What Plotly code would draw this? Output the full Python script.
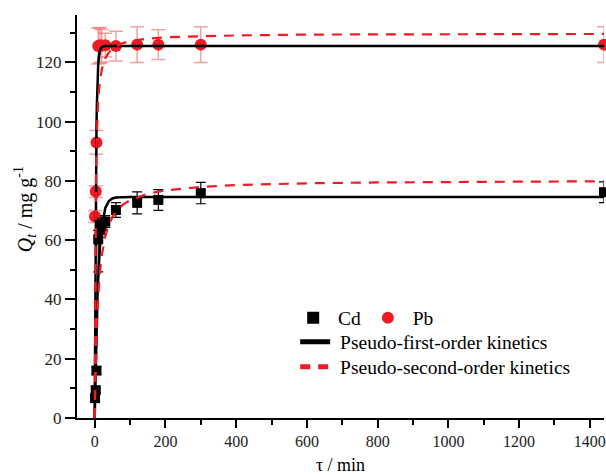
import plotly.graph_objects as go

# ---- experimental data ----
t_exp = [1, 3, 5, 10, 15, 20, 30, 60, 120, 180, 300, 1440]
cd_q = [6.7, 9.4, 16.0, 60.3, 63.5, 65.2, 66.3, 70.2, 72.6, 73.6, 75.9, 76.2]
cd_err = [0.8, 1.0, 1.2, 3.0, 2.5, 2.0, 2.0, 2.5, 3.7, 3.5, 3.6, 3.5]
cd_err_minus = [0.8, 1.0, 1.2, 11.0, 2.5, 2.0, 2.0, 2.5, 3.7, 3.5, 3.6, 3.5]
pb_q = [68.0, 76.4, 93.0, 125.5, 125.8, 125.6, 125.8, 125.5, 126.0, 126.0, 126.0, 126.0]
pb_err = [2.0, 2.0, 4.0, 6.0, 6.0, 5.5, 4.0, 5.0, 6.0, 5.0, 6.0, 6.0]

# ---- fitted curves ----
t_fit = [0, 1, 2, 3, 4, 5, 6, 8, 10, 12, 15, 20, 25, 30, 40, 50, 60, 80, 100,
         150, 200, 300, 400, 600, 800, 1000, 1200, 1440]
cd_pfo = [0, 7.1, 13.5, 19.3, 24.6, 29.3, 33.7, 41.1, 47.2, 52.1, 58.0, 64.5, 68.5,
          70.9, 73.2, 74.1, 74.4, 74.6, 74.6, 74.6, 74.6, 74.6, 74.6, 74.6, 74.6,
          74.6, 74.6, 74.6]
cd_pso = [0, 7.8, 14.2, 19.5, 24.1, 28.0, 31.4, 37.1, 41.6, 45.2, 49.5, 54.8, 58.5,
          61.3, 65.2, 67.7, 69.6, 72.0, 73.5, 75.7, 76.8, 78.0, 78.6, 79.2, 79.5,
          79.7, 79.8, 79.9]
pb_pfo = [0, 32.5, 56.6, 74.4, 87.7, 97.5, 104.8, 114.1, 119.3, 122.1, 124.1, 125.2,
          125.4, 125.5, 125.5, 125.5, 125.5, 125.5, 125.5, 125.5, 125.5, 125.5, 125.5,
          125.5, 125.5, 125.5, 125.5, 125.5]
pb_pso = [0, 42.1, 63.6, 76.6, 85.3, 91.6, 96.3, 103.0, 107.4, 110.6, 114.0, 117.6,
          119.8, 121.4, 123.4, 124.6, 125.4, 126.5, 127.2, 128.0, 128.5, 128.9, 129.1,
          129.4, 129.5, 129.5, 129.6, 129.6]

RED = "rgb(237,28,36)"
FONT = "'Liberation Serif', 'Times New Roman', serif"
NB = "\u00a0"

fig = go.Figure()

fig.add_trace(go.Scatter(
    x=t_exp, y=pb_q, mode="markers", name=NB + "Pb",
    marker=dict(symbol="circle", size=12, color=RED),
    error_y=dict(type="data", array=pb_err, color="rgba(240,70,70,0.5)",
                 thickness=1.5, width=7),
    legend="legend2", cliponaxis=False))
fig.add_trace(go.Scatter(
    x=t_exp, y=cd_q, mode="markers", name=NB + "Cd",
    marker=dict(symbol="square", size=10, color="black"),
    error_y=dict(type="data", array=cd_err, arrayminus=cd_err_minus, color="black",
                 thickness=1.2, width=5),
    legend="legend", cliponaxis=False))

for yv in (cd_pfo, pb_pfo):
    fig.add_trace(go.Scatter(
        x=t_fit, y=yv, mode="lines", name=NB + "Pseudo-first-order kinetics",
        line=dict(color="black", width=2.5), legend="legend3",
        showlegend=(yv is cd_pfo)))
for yv in (cd_pso, pb_pso):
    fig.add_trace(go.Scatter(
        x=t_fit, y=yv, mode="lines", name=NB + "Pseudo-second-order kinetics",
        line=dict(color=RED, width=2.2, dash="10px,8px"), legend="legend4",
        showlegend=(yv is cd_pso)))

axis_common = dict(
    showline=True, linecolor="black", linewidth=2, showgrid=False, zeroline=False,
    ticks="outside", tickwidth=1.5, tickcolor="black",
    mirror=False)

L, T, PW, PH = 77, 15, 529, 403


def px(x):
    return (x - L) / PW


def py(y):
    return 1 - (y - T) / PH


def leg(x, y):
    return dict(x=px(x), y=py(y), xanchor="left", yanchor="middle",
                bgcolor="rgba(0,0,0,0)", font=dict(family=FONT, size=19.5),
                orientation="v", itemsizing="constant")


fig.update_layout(
    width=606, height=475,
    margin=dict(l=L, r=0, t=T, b=57),
    paper_bgcolor="white", plot_bgcolor="white",
    font=dict(family=FONT, size=17, color="black"),
    xaxis=dict(range=[-50, 1440], tick0=0, dtick=200, ticklabeloverflow="allow",
               ticklen=8, tickfont=dict(family=FONT, size=16, color="#222"),
               minor=dict(dtick=100, ticks="outside", ticklen=5, tickwidth=1.5,
                          tickcolor="black"),
               title=dict(text="τ / min", font=dict(family=FONT, size=18), standoff=10),
               **axis_common),
    yaxis=dict(range=[0, 136], tick0=0, dtick=20,
               ticklen=10, tickfont=dict(family=FONT, size=17, color="#222"),
               minor=dict(dtick=10, ticks="outside", ticklen=5, tickwidth=1.5,
                          tickcolor="black"),
               **axis_common),
    annotations=[dict(
        text="<i>Q</i><sub><i>t</i></sub> / mg g<sup>-1</sup>",
        xref="paper", yref="paper", x=px(25), y=py(209), textangle=-90,
        showarrow=False, xanchor="center", yanchor="middle",
        font=dict(family=FONT, size=20, color="black"))],
    legend=leg(294, 318),
    legend2=leg(369, 318),
    legend3=leg(296, 342),
    legend4=leg(296, 367),
    showlegend=True,
)

fig.write_html("out.html", config={"displayModeBar": False},
               post_script="document.body.style.margin='0';")
